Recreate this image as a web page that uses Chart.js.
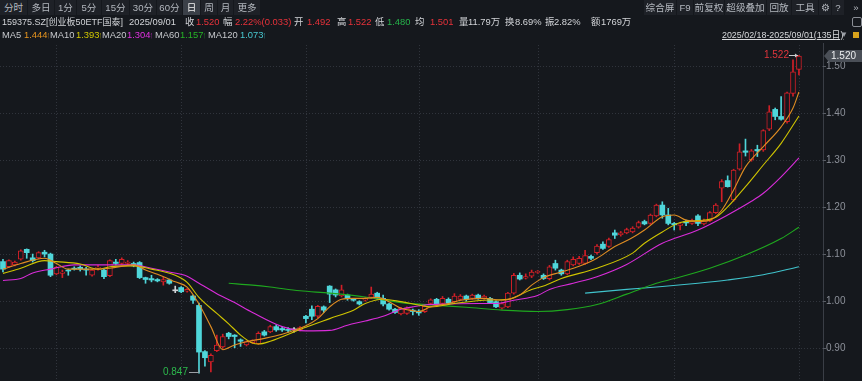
<!DOCTYPE html>
<html>
<head>
<meta charset="utf-8">
<script src="https://cdn.jsdelivr.net/npm/chart.js@4.4.1/dist/chart.umd.min.js"></script>
<style>
html, body { margin: 0; padding: 0; background: #15181d; }
#wrap { position: relative; width: 862px; height: 381px; overflow: hidden;
  font-family: "Liberation Sans", "Noto Sans CJK SC", sans-serif; font-size: 9.4px; color: #d2d4d8; }
#kline { position: absolute; left: 0; top: 0; }
.t { position: absolute; white-space: nowrap; line-height: 12px; z-index: 2; }
.btn { position: absolute; top: 0; height: 15px; line-height: 15px; text-align: center; font-size: 9.6px;
  background: #1e2127; color: #b4b8bf; z-index: 2; white-space: nowrap; }
.btn.on { background: #3b4048; color: #f0f0f0; }
.red { color: #e8323a; }
.grn { color: #25b34a; }
.ar { display: inline-block; width: 4px; transform: scaleX(0.55); transform-origin: left center; }
</style>
</head>
<body>
<div id="wrap">
  <canvas id="kline" width="862" height="381"></canvas>

  <div class="btn" style="left:0;width:27px">分时</div>
  <div class="btn" style="left:28px;width:26px">多日</div>
  <div class="btn" style="left:55px;width:21px">1分</div>
  <div class="btn" style="left:77px;width:24px">5分</div>
  <div class="btn" style="left:102px;width:27px">15分</div>
  <div class="btn" style="left:130px;width:26px">30分</div>
  <div class="btn" style="left:157px;width:25px">60分</div>
  <div class="btn on" style="left:183px;width:17px">日</div>
  <div class="btn" style="left:201px;width:16px">周</div>
  <div class="btn" style="left:218px;width:15px">月</div>
  <div class="btn" style="left:234px;width:26px">更多</div>

  <div class="btn" style="left:644px;width:32px">综合屏</div>
  <div class="btn" style="left:677px;width:16px">F9</div>
  <div class="btn" style="left:694px;width:30px">前复权</div>
  <div class="btn" style="left:725px;width:41px">超级叠加</div>
  <div class="btn" style="left:767px;width:24px">回放</div>
  <div class="btn" style="left:792px;width:26px">工具</div>
  <div class="btn" style="left:819px;width:12px">⚙</div>
  <div class="btn" style="left:832px;width:12px">?</div>
  <div class="btn" style="left:850px;width:12px;background:none">»</div>

  <div class="t" style="left:2px;top:16px;font-size:9px">159375.SZ[创业板50ETF国泰]</div>
  <div class="t" style="left:129px;top:16px">2025/09/01</div>
  <div class="t" style="left:185px;top:16px">收</div><div class="t red" style="left:196px;top:16px">1.520</div>
  <div class="t" style="left:223px;top:16px">幅</div><div class="t red" style="left:235px;top:16px">2.22%(0.033)</div>
  <div class="t" style="left:294px;top:16px">开</div><div class="t red" style="left:307px;top:16px">1.492</div>
  <div class="t" style="left:337px;top:16px">高</div><div class="t red" style="left:348px;top:16px">1.522</div>
  <div class="t" style="left:375px;top:16px">低</div><div class="t grn" style="left:387px;top:16px">1.480</div>
  <div class="t" style="left:415px;top:16px">均</div><div class="t red" style="left:430px;top:16px">1.501</div>
  <div class="t" style="left:459px;top:16px">量</div><div class="t" style="left:468px;top:16px">11.79万</div>
  <div class="t" style="left:505px;top:16px">换</div><div class="t" style="left:515px;top:16px">8.69%</div>
  <div class="t" style="left:545px;top:16px">振</div><div class="t" style="left:554px;top:16px">2.82%</div>
  <div class="t" style="left:591px;top:16px">额</div><div class="t" style="left:601px;top:16px">1769万</div>

  <div class="t" style="left:2px;top:29px;color:#c6c8cc">MA5</div><div class="t" style="left:24px;top:29px;color:#e8951f">1.444<span class="ar">↑</span></div>
  <div class="t" style="left:50px;top:29px;color:#c6c8cc">MA10</div><div class="t" style="left:76px;top:29px;color:#d2c800">1.393<span class="ar">↑</span></div>
  <div class="t" style="left:102px;top:29px;color:#c6c8cc">MA20</div><div class="t" style="left:127px;top:29px;color:#e030e0">1.304<span class="ar">↑</span></div>
  <div class="t" style="left:155px;top:29px;color:#c6c8cc">MA60</div><div class="t" style="left:180px;top:29px;color:#26b326">1.157<span class="ar">↑</span></div>
  <div class="t" style="left:208px;top:29px;color:#c6c8cc">MA120</div><div class="t" style="left:240px;top:29px;color:#48c8d0">1.073<span class="ar">↑</span></div>

  <div class="t" style="left:722px;top:29px;text-decoration:underline;color:#d8dadd;font-size:8.9px">2025/02/18-2025/09/01(135日)</div>
  <div class="t" style="left:840px;top:29px;color:#9a9ea5;font-size:8px">▼</div>
  <div class="t" style="left:853px;top:32px;width:6px;height:6px;background:#d8a21c;line-height:6px"></div>
  <div class="t" style="left:852px;top:17px;width:8px;height:8px;border:1px solid #8a8e95;border-radius:2px;line-height:8px"></div>
</div>

<script>
// 2025/02/18 - 2025/09/01, 135 trading days, index 0..134
const open = [
  1.084, 1.073, 1.077, 1.089, 1.110, 1.092, 1.092, 1.104, 1.100, 1.058,
  1.059, 1.066, 1.070, 1.072, 1.068, 1.055, 1.070, 1.066, 1.054, 1.083,
  1.080, 1.080, 1.080, 1.082, 1.050, 1.048, 1.046, 1.041, 1.045, 1.022,
  1.029, 1.021, 1.011, 0.991, 0.893, 0.871, 0.895, 0.903, 0.932, 0.928,
  0.918, 0.907, 0.912, 0.910, 0.935, 0.935, 0.946, 0.942, 0.940, 0.939,
  0.939, 0.968, 0.983, 0.968, 0.988, 1.032, 1.024, 1.011, 1.013, 1.004,
  0.999, 1.002, 1.008, 1.017, 1.006, 0.994, 0.983, 0.973, 0.974, 0.981,
  0.979, 0.978, 0.995, 1.004, 0.995, 1.004, 0.999, 1.004, 1.011, 1.006,
  1.013, 1.006, 1.006, 0.999, 0.985, 0.988, 1.017, 1.055, 1.049, 1.053,
  1.061, 1.055, 1.048, 1.080, 1.066, 1.058, 1.077, 1.080, 1.080, 1.095,
  1.103, 1.121, 1.116, 1.145, 1.141, 1.145, 1.147, 1.157, 1.169, 1.165,
  1.181, 1.204, 1.183, 1.165, 1.161, 1.169, 1.165, 1.181, 1.164, 1.171,
  1.188, 1.240, 1.256, 1.215, 1.280, 1.319, 1.300, 1.322, 1.321, 1.365,
  1.407, 1.392, 1.381, 1.441, 1.492
];
const high = [
  1.089, 1.088, 1.085, 1.109, 1.111, 1.100, 1.105, 1.108, 1.102, 1.074,
  1.066, 1.068, 1.073, 1.075, 1.072, 1.068, 1.076, 1.068, 1.088, 1.089,
  1.092, 1.086, 1.083, 1.084, 1.051, 1.055, 1.048, 1.051, 1.047, 1.032,
  1.031, 1.027, 1.013, 0.996, 0.895, 0.888, 0.928, 0.930, 0.934, 0.929,
  0.920, 0.916, 0.918, 0.935, 0.938, 0.949, 0.950, 0.946, 0.944, 0.944,
  0.946, 0.970, 0.990, 0.991, 0.990, 1.033, 1.026, 1.034, 1.015, 1.006,
  1.001, 1.008, 1.030, 1.019, 1.013, 0.996, 0.985, 0.987, 0.988, 0.983,
  0.982, 0.991, 1.005, 1.006, 1.010, 1.007, 1.016, 1.014, 1.013, 1.015,
  1.015, 1.013, 1.008, 1.001, 0.997, 1.019, 1.059, 1.060, 1.058, 1.066,
  1.065, 1.058, 1.076, 1.087, 1.068, 1.087, 1.094, 1.095, 1.108, 1.098,
  1.120, 1.126, 1.134, 1.151, 1.148, 1.155, 1.158, 1.170, 1.172, 1.185,
  1.206, 1.211, 1.197, 1.167, 1.166, 1.172, 1.174, 1.184, 1.174, 1.190,
  1.207, 1.258, 1.266, 1.280, 1.334, 1.344, 1.322, 1.331, 1.364, 1.415,
  1.410, 1.434, 1.444, 1.512, 1.522
];
const low = [
  1.062, 1.071, 1.075, 1.087, 1.091, 1.083, 1.090, 1.094, 1.052, 1.056,
  1.050, 1.055, 1.066, 1.064, 1.055, 1.053, 1.066, 1.048, 1.052, 1.077,
  1.078, 1.078, 1.073, 1.048, 1.038, 1.041, 1.041, 1.034, 1.036, 1.018,
  1.018, 1.019, 0.995, 0.847, 0.862, 0.850, 0.893, 0.900, 0.920, 0.901,
  0.904, 0.905, 0.910, 0.908, 0.926, 0.933, 0.936, 0.936, 0.934, 0.934,
  0.937, 0.954, 0.961, 0.965, 0.976, 0.997, 1.009, 1.009, 1.002, 1.000,
  0.992, 1.000, 1.006, 1.004, 0.990, 0.981, 0.974, 0.971, 0.972, 0.971,
  0.970, 0.976, 0.993, 0.992, 0.993, 0.994, 0.997, 1.002, 1.000, 1.004,
  1.004, 1.004, 0.995, 0.986, 0.983, 0.986, 1.015, 1.045, 1.047, 1.050,
  1.059, 1.046, 1.045, 1.066, 1.055, 1.056, 1.075, 1.078, 1.078, 1.088,
  1.100, 1.110, 1.114, 1.133, 1.138, 1.143, 1.145, 1.155, 1.162, 1.163,
  1.179, 1.176, 1.162, 1.151, 1.151, 1.160, 1.163, 1.160, 1.162, 1.169,
  1.186, 1.211, 1.242, 1.212, 1.278, 1.308, 1.297, 1.307, 1.318, 1.362,
  1.385, 1.384, 1.378, 1.435, 1.480
];
const close = [
  1.068, 1.086, 1.083, 1.107, 1.103, 1.086, 1.103, 1.100, 1.055, 1.072,
  1.062, 1.064, 1.068, 1.068, 1.066, 1.066, 1.072, 1.052, 1.086, 1.080,
  1.089, 1.083, 1.075, 1.050, 1.046, 1.045, 1.043, 1.046, 1.038, 1.022,
  1.020, 1.025, 1.002, 0.892, 0.880, 0.885, 0.907, 0.925, 0.925, 0.925,
  0.915, 0.914, 0.916, 0.932, 0.928, 0.946, 0.939, 0.939, 0.938, 0.939,
  0.944, 0.963, 0.968, 0.989, 0.981, 1.015, 1.013, 1.024, 1.006, 1.002,
  0.994, 1.006, 1.015, 1.006, 0.994, 0.983, 0.976, 0.985, 0.986, 0.978,
  0.975, 0.989, 1.003, 0.994, 1.006, 0.996, 1.011, 1.011, 1.004, 1.013,
  1.006, 1.011, 0.997, 0.988, 0.995, 1.017, 1.055, 1.047, 1.052, 1.062,
  1.063, 1.048, 1.073, 1.070, 1.058, 1.084, 1.089, 1.091, 1.097, 1.091,
  1.117, 1.112, 1.131, 1.140, 1.145, 1.152, 1.155, 1.167, 1.164, 1.183,
  1.204, 1.183, 1.165, 1.162, 1.164, 1.166, 1.171, 1.165, 1.171, 1.188,
  1.204, 1.254, 1.243, 1.278, 1.317, 1.316, 1.319, 1.319, 1.362, 1.402,
  1.392, 1.386, 1.442, 1.487, 1.520
];

// moving averages: [day index, value]
const ma5 = [[0,1.068],[3,1.080],[7,1.091],[9,1.080],[11,1.068],[15,1.068],[18,1.070],[22,1.077],[24,1.066],
  [26,1.057],[29,1.041],[31,1.030],[33,0.994],[35,0.946],[37,0.897],[39,0.907],[41,0.914],[44,0.921],[47,0.930],
  [51,0.948],[53,0.963],[55,0.988],[57,1.004],[59,1.006],[61,1.006],[63,1.008],[65,0.999],[67,0.985],[69,0.980],
  [70,0.978],[72,0.988],[75,0.995],[77,1.002],[81,1.006],[84,1.002],[87,1.013],[89,1.034],[91,1.050],[94,1.062],
  [97,1.074],[100,1.091],[103,1.116],[106,1.135],[108,1.151],[111,1.179],[113,1.183],[115,1.172],[117,1.169],
  [119,1.172],[121,1.193],[123,1.236],[125,1.285],[128,1.328],[131,1.370],[133,1.410],[134,1.444]];
const ma10 = [[0,1.059],[3,1.070],[7,1.086],[9,1.084],[13,1.079],[16,1.068],[18,1.073],[22,1.075],[25,1.068],
  [29,1.055],[31,1.040],[33,1.008],[36,0.974],[38,0.952],[40,0.928],[42,0.911],[43,0.909],[45,0.915],[50,0.940],
  [55,0.963],[59,0.981],[61,0.995],[64,1.004],[67,0.999],[70,0.992],[72,0.988],[76,0.995],[81,1.002],[85,1.004],
  [89,1.025],[91,1.032],[94,1.048],[100,1.070],[106,1.102],[108,1.123],[111,1.147],[114,1.167],[117,1.171],
  [120,1.178],[122,1.200],[125,1.243],[128,1.289],[131,1.335],[134,1.393]];
const ma20 = [[0,1.044],[3,1.048],[5,1.060],[8,1.068],[12,1.077],[17,1.077],[22,1.077],[25,1.070],[28,1.062],
  [31,1.053],[33,1.038],[36,1.016],[39,0.997],[42,0.976],[47,0.946],[51,0.937],[55,0.938],[58,0.949],[61,0.958],
  [64,0.968],[67,0.983],[69,0.988],[71,0.992],[75,0.994],[80,0.995],[83,0.995],[86,1.002],[90,1.012],[92,1.025],
  [96,1.038],[100,1.052],[105,1.078],[111,1.123],[117,1.151],[122,1.183],[126,1.212],[128,1.229],[131,1.264],[134,1.304]];
const ma60 = [[38,1.038],[42,1.034],[45,1.030],[50,1.022],[55,1.017],[61,1.009],[67,0.997],[72,0.992],[78,0.987],
  [84,0.981],[90,0.978],[95,0.982],[100,0.993],[105,1.015],[110,1.038],[113,1.048],[119,1.070],[125,1.098],
  [131,1.133],[134,1.157]];
const ma120 = [[98,1.017],[105,1.025],[111,1.031],[117,1.038],[122,1.045],[128,1.056],[134,1.073]];

const yTicks = [0.90, 1.00, 1.10, 1.20, 1.30, 1.40, 1.50];
const monthStarts = [9, 30, 51, 70, 90, 113, 134];

const BG = '#15181d';
const UP = '#d11f27';
const DOWN = '#4fd6da';
const FLAT = '#d0d2d6';

const idx = open.map((_, i) => i);
const dir = i => close[i] > open[i] ? 1 : (close[i] < open[i] ? -1 : 0);
const candleColor = i => dir(i) > 0 ? UP : (dir(i) < 0 ? DOWN : FLAT);

function maLine(pts, color) {
  return {
    type: 'line',
    data: pts.map(p => ({ x: p[0], y: p[1] })),
    borderColor: color,
    borderWidth: 1.1,
    pointRadius: 0,
    cubicInterpolationMode: 'monotone',
    order: 0
  };
}

const overlay = {
  id: 'overlay',
  beforeDatasetsDraw(chart) {
    const { ctx, chartArea: a, scales: { x, y } } = chart;
    ctx.save();
    ctx.strokeStyle = '#30343c';
    ctx.lineWidth = 1;
    ctx.setLineDash([1, 2]);
    ctx.beginPath();
    yTicks.forEach(v => {
      const py = Math.round(y.getPixelForValue(v)) + 0.5;
      ctx.moveTo(a.left, py); ctx.lineTo(a.right, py);
    });
    monthStarts.forEach(i => {
      const px = Math.round(x.getPixelForValue(i)) + 0.5;
      ctx.moveTo(px, a.top); ctx.lineTo(px, a.bottom);
    });
    ctx.stroke();
    ctx.restore();
  },
  afterDraw(chart) {
    const { ctx, chartArea: a, scales: { x, y } } = chart;
    ctx.save();
    // axis line and labels
    ctx.strokeStyle = '#3a3e46';
    ctx.lineWidth = 1;
    ctx.beginPath();
    ctx.moveTo(a.right + 0.5, a.top - 2); ctx.lineTo(a.right + 0.5, a.bottom);
    ctx.stroke();
    ctx.font = '10px "Liberation Sans"';
    ctx.textBaseline = 'middle';
    ctx.textAlign = 'left';
    ctx.fillStyle = '#8c9099';
    ctx.strokeStyle = '#5a5e66';
    yTicks.forEach(v => {
      const py = Math.round(y.getPixelForValue(v)) + 0.5;
      ctx.beginPath(); ctx.moveTo(a.right, py); ctx.lineTo(a.right + 3, py); ctx.stroke();
      ctx.fillText(v.toFixed(2), a.right + 3, py);
    });

    // highest / lowest markers
    let hi = 0, lo = 0;
    idx.forEach(i => { if (high[i] > high[hi]) hi = i; if (low[i] < low[lo]) lo = i; });
    const hx = x.getPixelForValue(hi), hy = Math.round(y.getPixelForValue(high[hi])) + 0.5;
    ctx.strokeStyle = '#c8cacd';
    ctx.fillStyle = '#c8cacd';
    ctx.beginPath(); ctx.moveTo(hx - 10, hy); ctx.lineTo(hx - 1, hy); ctx.stroke();
    ctx.beginPath(); ctx.moveTo(hx - 1, hy); ctx.lineTo(hx - 4, hy - 2); ctx.lineTo(hx - 4, hy + 2); ctx.fill();
    ctx.textAlign = 'right';
    ctx.fillStyle = '#e0353c';
    ctx.fillText(high[hi].toFixed(3), hx - 10, hy);

    const lx = x.getPixelForValue(lo), ly = Math.round(y.getPixelForValue(low[lo])) - 0.5;
    ctx.strokeStyle = '#9a9ea4';
    ctx.beginPath(); ctx.moveTo(lx - 10, ly); ctx.lineTo(lx, ly); ctx.lineTo(lx, ly - 3); ctx.stroke();
    ctx.fillStyle = '#2cb84c';
    ctx.fillText(low[lo].toFixed(3), lx - 11, ly);

    // last price tag
    const last = close.length - 1;
    const ty = Math.round(y.getPixelForValue(close[last]));
    ctx.fillStyle = '#4a4f57';
    ctx.beginPath();
    ctx.moveTo(a.right + 1, ty);
    ctx.lineTo(a.right + 6, ty - 6);
    ctx.lineTo(862, ty - 6);
    ctx.lineTo(862, ty + 6);
    ctx.lineTo(a.right + 6, ty + 6);
    ctx.closePath();
    ctx.fill();
    ctx.fillStyle = '#eceef0';
    ctx.textAlign = 'left';
    ctx.fillText(close[last].toFixed(3), a.right + 8, ty + 0.5);
    ctx.restore();
  }
};

Chart.defaults.font.family = '"Liberation Sans", "Noto Sans CJK SC", sans-serif';

new Chart(document.getElementById('kline'), {
  type: 'bar',
  data: {
    datasets: [
      maLine(ma5, '#e08d22'),
      maLine(ma10, '#cfc400'),
      maLine(ma20, '#d92cd9'),
      maLine(ma60, '#1fa81f'),
      maLine(ma120, '#40c3cc'),
      {
        // bodies
        data: idx.map(i => ({ x: i, y: [open[i], close[i]] })),
        backgroundColor: c => dir(c.dataIndex) > 0 ? BG : candleColor(c.dataIndex),
        borderColor: c => candleColor(c.dataIndex),
        borderWidth: c => dir(c.dataIndex) > 0 ? 1 : 0,
        borderSkipped: false,
        barThickness: 5,
        minBarLength: 1,
        grouped: false,
        order: 1
      },
      {
        // wicks
        data: idx.map(i => ({ x: i, y: [low[i], high[i]] })),
        backgroundColor: c => candleColor(c.dataIndex),
        borderWidth: 0,
        barThickness: 1,
        grouped: false,
        order: 2
      }
    ]
  },
  options: {
    responsive: false,
    animation: false,
    layout: { padding: { top: 45, right: 39, bottom: 0, left: 0 } },
    plugins: { legend: { display: false }, tooltip: { enabled: false } },
    scales: {
      x: { type: 'linear', display: false, offset: false, min: -0.5, max: 138.05 },
      y: { display: false, min: 0.8306, max: 1.5437 }
    }
  },
  plugins: [overlay]
});
</script>
</body>
</html>
